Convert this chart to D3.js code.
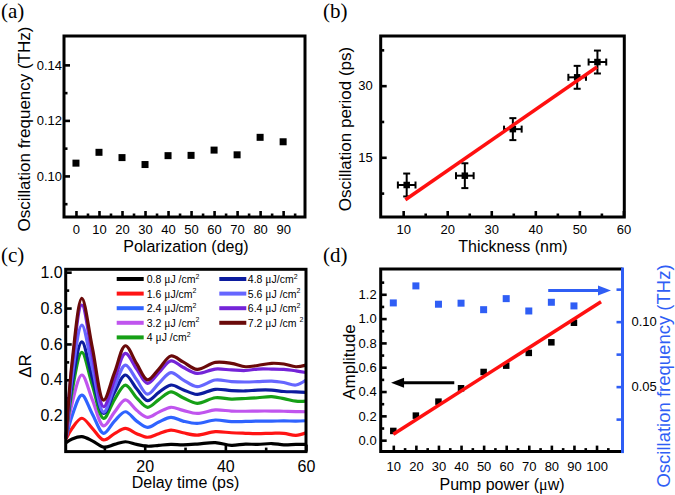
<!DOCTYPE html>
<html><head><meta charset="utf-8">
<script src="https://cdn.jsdelivr.net/npm/d3@7"></script>
<style>
body{margin:0;background:#fff}
svg{display:block}
text{font-family:"Liberation Sans",Arial,sans-serif;fill:#000}
</style>
</head><body><svg id="chart" width="675" height="495"></svg>
<script>
// ---------- data ----------
// (a)
const polAngles = [0,10,20,30,40,50,60,70,80,90];
const polFreq = [0.1046,0.1085,0.1066,0.1041,0.1073,0.1074,0.1093,0.1076,0.1139,0.1123];
const polXTicks = [0,10,20,30,40,50,60,70,80,90];
const polYTicks = [0.10,0.12,0.14];
// (b)
const thickness = [10.8,24.0,34.9,49.5,54.1];
const period = [9.2,11.15,20.9,31.75,34.95];
const thicknessErr = [2,2,2,2,2];
const periodErr = [2.4,2.6,2.3,2.4,2.4];
const periodFit = [[10.5,6.1],[54,33.9]];
const thickXTicks = [10,20,30,40,50,60];
const periodYTicks = [15,30];
// (c)
const fluenceLabels = ["0.8","1.6","2.4","3.2","4","4.8","5.6","6.4","7.2"];
const fluenceUnits = [" /cm","/cm","/cm"," /cm"," /cm","/cm"," /cm"," /cm"," /cm "];
const delayTimes = [0.5,2,4.4,7,9.8,12.5,15.2,18,20.7,23.5,26.5,29.5,33,37.5,41.5,45,48,51.5,54.5,57.5,60];
const dR08 = [0.05,0.07,0.083,0.06,0.025,0.04,0.055,0.04,0.03,0.035,0.04,0.038,0.042,0.05,0.035,0.042,0.04,0.045,0.038,0.04,0.04];
const dR16 = [0.07,0.13,0.186,0.13,0.065,0.10,0.129,0.10,0.08,0.10,0.12,0.105,0.092,0.111,0.105,0.102,0.10,0.102,0.102,0.09,0.105];
const dR24 = [0.075,0.20,0.315,0.21,0.102,0.17,0.222,0.17,0.135,0.165,0.191,0.17,0.157,0.176,0.167,0.168,0.17,0.17,0.171,0.17,0.172];
const dR32 = [0.08,0.27,0.427,0.29,0.143,0.22,0.288,0.23,0.191,0.22,0.247,0.23,0.213,0.232,0.226,0.225,0.226,0.226,0.225,0.223,0.222];
const dR40 = [0.08,0.34,0.553,0.37,0.185,0.29,0.371,0.30,0.247,0.29,0.333,0.30,0.269,0.30,0.293,0.296,0.30,0.306,0.295,0.281,0.281];
const dR48 = [0.08,0.38,0.612,0.41,0.213,0.33,0.427,0.35,0.284,0.33,0.371,0.345,0.319,0.347,0.34,0.338,0.343,0.343,0.335,0.333,0.33];
const dR56 = [0.08,0.42,0.705,0.47,0.22,0.36,0.482,0.40,0.32,0.38,0.44,0.40,0.362,0.399,0.39,0.388,0.39,0.393,0.385,0.371,0.399];
const dR64 = [0.075,0.48,0.817,0.54,0.25,0.40,0.547,0.46,0.38,0.44,0.506,0.47,0.436,0.46,0.455,0.452,0.46,0.46,0.458,0.45,0.441];
const dR72 = [0.07,0.50,0.854,0.58,0.287,0.44,0.59,0.49,0.40,0.46,0.533,0.50,0.458,0.497,0.492,0.473,0.48,0.492,0.488,0.473,0.482];
const dRSeries = [dR08,dR16,dR24,dR32,dR40,dR48,dR56,dR64,dR72];
const delayXTicks = [20,40,60];
const dRYTicks = [0.2,0.4,0.6,0.8,1.0];
// (d)
const pumpPower = [10,20,30,40,50,60,70,80,90];
const amplitude = [0.076,0.202,0.317,0.427,0.561,0.613,0.718,0.805,0.966];
const pumpFreq = [0.1144,0.1275,0.1134,0.1142,0.1092,0.1177,0.1082,0.1149,0.1121];
const amplitudeFit = [[10,0.049],[102,1.139]];
const leftArrow = [[37,0.473],[9,0.473]];
const rightArrow = [[78.6,1.232],[106.4,1.232]];
const pumpXTicks = [10,20,30,40,50,60,70,80,90,100];
const ampYTicks = [0.0,0.2,0.4,0.6,0.8,1.0,1.2];
const freqYTicks = [0.05,0.10];

// ---------- styles ----------
const seriesColors = ["#000000","#ff1414","#2f63ff","#c055ee","#16a016","#0c1c9e","#6666ff","#7424d8","#6a0a0a"];
const RED = "#ff1010", BLUE = "#2f5ef5";
const SERIF = '"Liberation Serif","Times New Roman",serif';

const svg = d3.select("#chart");

function frame(x0,x1,y0,y1){
  svg.append("rect").attr("x",x0).attr("y",y0).attr("width",x1-x0).attr("height",y1-y0)
    .attr("fill","none").attr("stroke","#000").attr("stroke-width",3);
}
function styleAxis(g, fs, color){
  g.select(".domain").remove();
  g.selectAll(".tick line").attr("stroke",color||"#000").attr("stroke-width",2.6);
  g.selectAll(".tick text").attr("font-size",fs).attr("fill",color||"#000")
    .style("font-family",'"Liberation Sans",Arial,sans-serif');
}
function drawAxis(axisFn, scale, pos, isX, ticks, minor, fmt, fs, pad, majorLen, minorLen, color){
  const g = svg.append("g").attr("transform", isX?`translate(0,${pos})`:`translate(${pos},0)`);
  g.call(axisFn(scale).tickValues(ticks).tickFormat(fmt).tickSize(-majorLen).tickPadding(pad));
  styleAxis(g, fs, color);
  const gm = svg.append("g").attr("transform", isX?`translate(0,${pos})`:`translate(${pos},0)`);
  gm.call(axisFn(scale).tickValues(minor).tickFormat("").tickSize(-minorLen));
  styleAxis(gm, fs, color);
  return g;
}
function panelLabel(t,x,y){
  svg.append("text").attr("x",x).attr("y",y).text(t)
    .style("font-family",SERIF).attr("font-size",21);
}
function yTitle(t,x,y,fs,color){
  svg.append("text").attr("transform",`translate(${x},${y}) rotate(-90)`).attr("text-anchor","middle")
    .attr("font-size",fs).style("fill",color||"#000").text(t);
}
function xTitle(t,x,y,fs){
  return svg.append("text").attr("x",x).attr("y",y).attr("text-anchor","middle").attr("font-size",fs).text(t);
}
function squares(data, xs, ys, size, color){
  svg.append("g").selectAll("rect").data(data).join("rect")
    .attr("x",d=>xs(d[0])-size/2).attr("y",d=>ys(d[1])-size/2)
    .attr("width",size).attr("height",size).attr("fill",color);
}

// ---------- (a) ----------
{
  const x = d3.scaleLinear().domain([-5.2,99.5]).range([64,305]);
  const y = d3.scaleLinear().domain([0.0852,0.1504]).range([217,36]);
  drawAxis(d3.axisBottom,x,217,true,polXTicks,d3.range(5,100,10),d3.format("d"),13,8,6,3.5);
  drawAxis(d3.axisLeft,y,64,false,polYTicks,[0.09,0.11,0.13],d3.format(".2f"),13,2,6,3.5);
  squares(polAngles.map((a,i)=>[a,polFreq[i]]),x,y,7,"#000");
  frame(64,305,36,217);
  yTitle("Oscillation frequency (THz)",30,129,17);
  xTitle("Polarization (deg)",186,252,16);
  panelLabel("(a)",1,18);
}

// ---------- (b) ----------
{
  const x = d3.scaleLinear().domain([4.9,60.2]).range([380.7,624.3]);
  const y = d3.scaleLinear().domain([2.5,40.4]).range([217,36]);
  drawAxis(d3.axisBottom,x,217,true,thickXTicks,d3.range(15,60,10),d3.format("d"),13,8,6,3.5);
  drawAxis(d3.axisLeft,y,380.7,false,periodYTicks,[7.5,22.5,37.5],d3.format("d"),13,8,6,3.5);
  const g = svg.append("g").attr("stroke","#000").attr("stroke-width",2).attr("fill","none");
  thickness.forEach((t,i)=>{
    const cx=x(t), cy=y(period[i]);
    const x0=x(t-thicknessErr[i]), x1=x(t+thicknessErr[i]);
    const y0=y(period[i]-periodErr[i]), y1=y(period[i]+periodErr[i]);
    g.append("line").attr("x1",x0).attr("x2",x1).attr("y1",cy).attr("y2",cy);
    g.append("line").attr("x1",x0).attr("x2",x0).attr("y1",cy-3.5).attr("y2",cy+3.5);
    g.append("line").attr("x1",x1).attr("x2",x1).attr("y1",cy-3.5).attr("y2",cy+3.5);
    g.append("line").attr("x1",cx).attr("x2",cx).attr("y1",y0).attr("y2",y1);
    g.append("line").attr("x1",cx-3.5).attr("x2",cx+3.5).attr("y1",y0).attr("y2",y0);
    g.append("line").attr("x1",cx-3.5).attr("x2",cx+3.5).attr("y1",y1).attr("y2",y1);
  });
  squares(thickness.map((t,i)=>[t,period[i]]),x,y,6.5,"#000");
  svg.append("path").datum(periodFit).attr("d",d3.line().x(d=>x(d[0])).y(d=>y(d[1])))
    .attr("stroke",RED).attr("stroke-width",3.5).attr("fill","none");
  frame(380.7,624.3,36,217);
  yTitle("Oscillation period (ps)",351,129,17);
  xTitle("Thickness (nm)",513,252,16);
  panelLabel("(b)",323,18);
}

// ---------- (c) ----------
{
  const x = d3.scaleLinear().domain([0.4,60]).range([65.7,306]);
  const y = d3.scaleLinear().domain([0,1.016]).range([451.6,269.3]);
  drawAxis(d3.axisBottom,x,451.6,true,delayXTicks,[10,30,50],d3.format("d"),16,9,7,4);
  drawAxis(d3.axisLeft,y,65.7,false,dRYTicks,[0.1,0.3,0.5,0.7,0.9],d3.format(".1f"),16,3,6,3.5);
  const line = d3.line().x(d=>x(d[0])).y(d=>y(d[1])).curve(d3.curveCatmullRom.alpha(0.5));
  dRSeries.forEach((s,i)=>{
    svg.append("path").datum(delayTimes.map((t,j)=>[t,s[j]])).attr("d",line)
      .attr("fill","none").attr("stroke",seriesColors[i]).attr("stroke-width",3.2)
      .attr("stroke-linejoin","round");
  });
  // legend
  fluenceLabels.forEach((f,i)=>{
    const col = i<5?0:1, row = i<5?i:i-5;
    const lx = col===0?116.7:219.3, ly = 279 + row*14.6;
    svg.append("line").attr("x1",lx).attr("x2",lx+27).attr("y1",ly).attr("y2",ly)
      .attr("stroke",seriesColors[i]).attr("stroke-width",4);
    const t = svg.append("text").attr("x",lx+(col===0?30:28.5)).attr("y",ly+4).attr("font-size",10.5);
    t.append("tspan").text(f+" ");
    t.append("tspan").text("\u03bc").style("font-family",SERIF).attr("font-size",11.5);
    t.append("tspan").text("J"+fluenceUnits[i]);
    t.append("tspan").text("2").attr("font-size",7).attr("dy",-4.5);
  });
  frame(65.7,306,269.3,451.6);
  yTitle("\u0394R",31,366,17);
  xTitle("Delay time (ps)",185.5,488,16);
  panelLabel("(c)",1,262);
}

// ---------- (d) ----------
{
  const x = d3.scaleLinear().domain([4.42,111.5]).range([380.7,622.5]);
  const yL = d3.scaleLinear().domain([-0.094,1.408]).range([451.6,269]);
  const yR = d3.scaleLinear().domain([0,0.1405]).range([451.6,269]);
  drawAxis(d3.axisBottom,x,451.6,true,pumpXTicks,d3.range(15,110,10),d3.format("d"),13,10,6,3.5);
  drawAxis(d3.axisLeft,yL,380.7,false,ampYTicks,d3.range(0.1,1.35,0.2),d3.format(".1f"),13,4,6,3.5);
  drawAxis(d3.axisRight,yR,622.5,false,freqYTicks,[0.025,0.075,0.125],d3.format(".2f"),13,9,6,6,BLUE);
  squares(pumpPower.map((p,i)=>[p,pumpFreq[i]]),x,yR,7,BLUE);
  squares(pumpPower.map((p,i)=>[p,amplitude[i]]),x,yL,6.5,"#000");
  svg.append("path").datum(amplitudeFit).attr("d",d3.line().x(d=>x(d[0])).y(d=>yL(d[1])))
    .attr("stroke",RED).attr("stroke-width",3.5).attr("fill","none");
  function arrow(pts,color){
    const x0=x(pts[0][0]), x1=x(pts[1][0]), yy=yL(pts[0][1]);
    const dir = Math.sign(x1-x0);
    svg.append("line").attr("x1",x0).attr("x2",x1-dir*10).attr("y1",yy).attr("y2",yy)
      .attr("stroke",color).attr("stroke-width",3);
    svg.append("path").attr("d",`M${x1},${yy}L${x1-dir*13},${yy-5}L${x1-dir*13},${yy+5}Z`).attr("fill",color);
  }
  arrow(leftArrow,"#000");
  arrow(rightArrow,BLUE);
  svg.append("path").attr("d","M622.5,269H380.7V451.6H622.5").attr("fill","none").attr("stroke","#000").attr("stroke-width",3);
  svg.append("line").attr("x1",622.5).attr("x2",622.5).attr("y1",267.5).attr("y2",453.1).attr("stroke",BLUE).attr("stroke-width",3);
  yTitle("Amplitude",355,362,17);
  yTitle("Oscillation frequency (THz)",670,376,18.5,BLUE);
  xTitle("Pump power (",502,490,16).call(t=>{
    t.append("tspan").text("\u03bc").style("font-family",SERIF);
    t.append("tspan").text("w)");
  });
  panelLabel("(d)",323,262);
}
</script>
</body></html>
